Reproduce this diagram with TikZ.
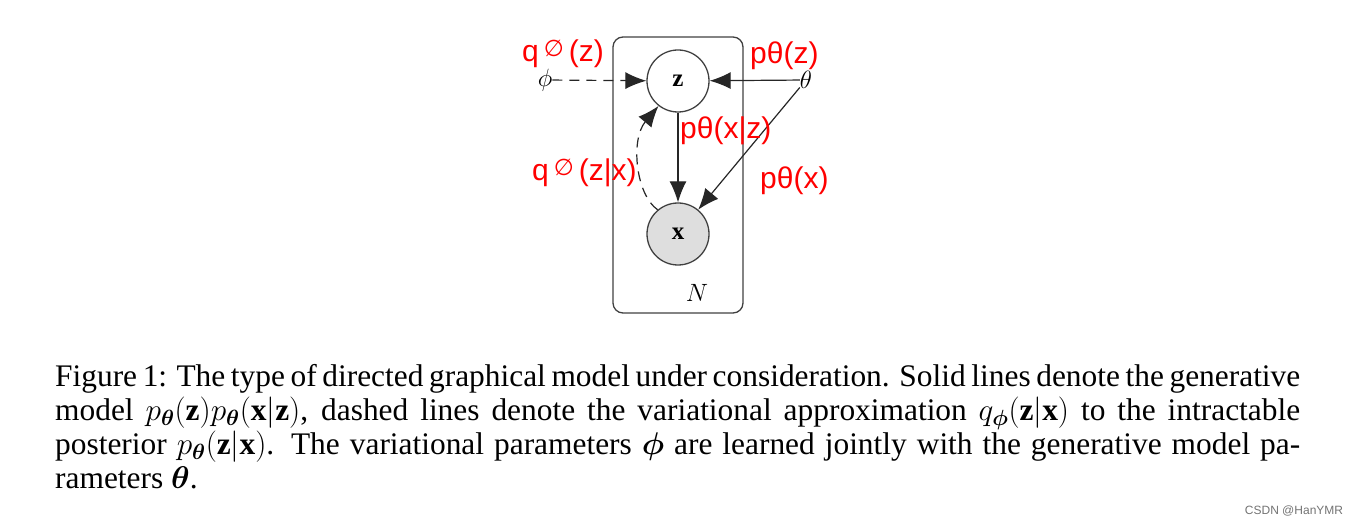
\RequirePackage{fix-cm}
\documentclass[tikz,border=0pt]{standalone}
\usepackage{fontspec}
\usepackage{amsmath,amssymb}
\setmainfont{Liberation Serif}
\newfontfamily\annofont{Liberation Sans}
\newfontfamily\symfont{DejaVu Sans}
\usetikzlibrary{arrows.meta}
\newcommand{\emptyq}{\raisebox{0.3ex}{\fontsize{23}{23}\selectfont\symfont ∅}}

\begin{document}
\begin{tikzpicture}[
  x=1pt, y=-1pt,
  var/.style={circle, draw=black!75, line width=1.3pt, minimum size=62pt, inner sep=0pt, font=\fontsize{25}{25}\selectfont},
  obs/.style={var, fill=black!13},
  param/.style={inner sep=0pt, font=\fontsize{25}{25}\selectfont},
  plate/.style={draw=black!75, line width=1.3pt, rounded corners=10pt, inner sep=0pt},
  gen/.style={draw=black!85, line width=1.2pt, -{Latex[length=21pt,width=17pt]}},
  inf/.style={gen, dash pattern=on 10pt off 7pt},
  anno/.style={text=red, inner sep=0pt, font=\fontsize{30}{30}\selectfont\annofont},
]
\useasboundingbox (0,0) rectangle (1362,526);

% Plate
\node[plate, minimum width=130pt, minimum height=276pt] (plate) at (678,175) {};
\node[param] (N) at (697,293) {$N$};

% Variables and parameters
\node[var] (z) at (678,81) {$\mathbf{z}$};
\node[obs] (x) at (678,234) {$\mathbf{x}$};
\node[param] (phi) at (545,80) {$\phi$};
\node[param] (theta) at (806,80) {$\theta$};

% Edges
\draw[inf] (phi) -- (z);
\draw[gen] (theta) -- (z);
\draw[gen] (z) -- (x);
\draw[gen] (theta) -- (x);
\draw[inf] (x.130) .. controls (636,195) and (630,140) .. (z.232);

% Annotations
\node[anno, anchor=west] (qz) at (522,54) {q\,\emptyq\,(z)};
\node[anno, anchor=west] (pz) at (750,56) {pθ(z)};
\node[anno, anchor=west] (pxz) at (680,131) {pθ(x|z)};
\node[anno, anchor=west] (qzx) at (532,173) {q\,\emptyq\,(z|x)};
\node[anno, anchor=west] (px) at (760,181) {pθ(x)};

% Caption
\node[anchor=north west, text width=1245pt, align=justify, inner sep=0pt,
      font=\fontsize{31.4}{34}\selectfont] (caption) at (55,364)
  {Figure 1: The type of directed graphical model under consideration. Solid lines denote the generative\linebreak
   model $p_{\boldsymbol\theta}(\mathbf{z})p_{\boldsymbol\theta}(\mathbf{x}|\mathbf{z})$, dashed lines denote the variational approximation $q_{\boldsymbol\phi}(\mathbf{z}|\mathbf{x})$ to the intractable\linebreak
   posterior $p_{\boldsymbol\theta}(\mathbf{z}|\mathbf{x})$. The variational parameters $\boldsymbol\phi$ are learned jointly with the generative model pa-\linebreak
   rameters $\boldsymbol\theta$.};

% Watermark
\node[text=black!55, inner sep=0pt, font=\fontsize{12}{12}\selectfont\annofont] (mark) at (1294,511) {CSDN @HanYMR};
\end{tikzpicture}
\end{document}
